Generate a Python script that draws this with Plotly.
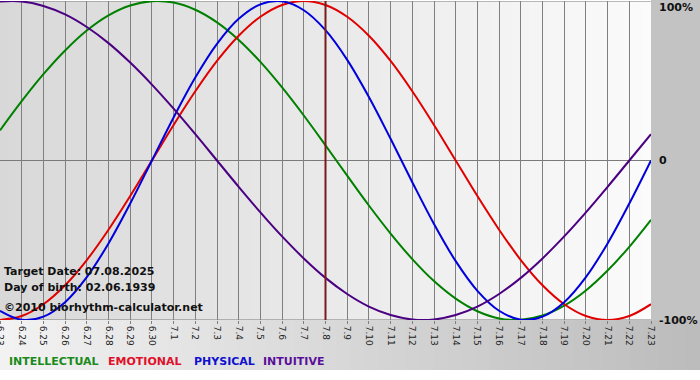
import plotly.graph_objects as go

# Day labels (month.day)
DAYS = ["6.23", "6.24", "6.25", "6.26", "6.27", "6.28", "6.29", "6.30",
        "7.1", "7.2", "7.3", "7.4", "7.5", "7.6", "7.7", "7.8", "7.9", "7.10",
        "7.11", "7.12", "7.13", "7.14", "7.15", "7.16", "7.17", "7.18", "7.19",
        "7.20", "7.21", "7.22", "7.23"]

# Values in percent
INTELLECTUAL = [18.9, 37.2, 54.1, 69.0, 81.5, 91.0, 97.2, 99.9, 99.0, 94.5, 86.6,
                75.6, 61.8, 45.8, 28.2, 9.5, -9.5, -28.2, -45.8, -61.8, -75.6,
                -86.6, -94.5, -99.0, -99.9, -97.2, -91.0, -81.5, -69.0, -54.1, -37.2]
EMOTIONAL = [-100.0, -97.5, -90.1, -78.2, -62.4, -43.4, -22.3, 0.0, 22.3, 43.4, 62.4,
             78.2, 90.1, 97.5, 100.0, 97.5, 90.1, 78.2, 62.4, 43.4, 22.3, 0.0,
             -22.3, -43.4, -62.4, -78.2, -90.1, -97.5, -100.0, -97.5, -90.1]
PHYSICAL = [-94.2, -99.8, -97.9, -88.8, -73.1, -52.0, -27.0, 0.0, 27.0, 52.0, 73.1,
            88.8, 97.9, 99.8, 94.2, 81.7, 63.1, 39.8, 13.6, -13.6, -39.8, -63.1,
            -81.7, -94.2, -99.8, -97.9, -88.8, -73.1, -52.0, -27.0, 0.0]
INTUITIVE = [99.7, 99.7, 96.9, 91.6, 83.7, 73.6, 61.4, 47.6, 32.5, 16.5, 0.0,
             -16.5, -32.5, -47.6, -61.4, -73.6, -83.7, -91.6, -96.9, -99.7, -99.7,
             -96.9, -91.6, -83.7, -73.6, -61.4, -47.6, -32.5, -16.5, 0.0, 16.5]

Y_TICKS = [100, 0, -100]
Y_TICK_TEXT = ["100%", "0", "-100%"]

TARGET_DAY = "7.8"
SERIES = [("INTELLECTUAL", INTELLECTUAL, "#008000"),
          ("EMOTIONAL", EMOTIONAL, "#e00000"),
          ("PHYSICAL", PHYSICAL, "#0000dd"),
          ("INTUITIVE", INTUITIVE, "#4b0082")]
LEGEND_COLORS = ["#1a8a1a", "#e0102a", "#1010d0", "#5a0f9a"]
INFO_LINES = ["Target Date: 07.08.2025", "Day of birth: 02.06.1939",
              "\u00a92010 biorhythm-calculator.net"]

W, H = 700, 380
L, R, T, B = 0, 49, 1, 60
PW, PH = W - L - R, H - T - B


def px_x(x):
    return (x - L) / PW


def px_y(y):
    return (T + PH - y) / PH


fig = go.Figure()
for name, vals, col in SERIES:
    fig.add_trace(go.Scatter(x=DAYS, y=vals, mode="lines", name=name,
                             line=dict(color=col, width=2, shape="spline", smoothing=1.0),
                             showlegend=False, hoverinfo="skip"))

shapes = []
# plot background gradient (dark left -> light right)
N = 70
c0, c1 = 216, 251
for k in range(N):
    c = round(c0 + (c1 - c0) * k / (N - 1))
    shapes.append(dict(type="rect", xref="paper", yref="paper", x0=k / N, x1=(k + 1) / N + 0.001,
                       y0=0, y1=1, fillcolor=f"rgb({c},{c},{c})", line_width=0, layer="below"))
# bottom band gradient (light left -> dark right)
M = 50
b0, b1 = 242, 188
xr = px_x(W)
for k in range(M):
    c = round(b0 + (b1 - b0) * k / (M - 1))
    shapes.append(dict(type="rect", xref="paper", yref="paper", x0=xr * k / M, x1=xr * (k + 1) / M + 0.001,
                       y0=px_y(370), y1=0, fillcolor=f"rgb({c},{c},{c})", line_width=0, layer="below"))
# right margin
shapes.append(dict(type="rect", xref="paper", yref="paper", x0=1, x1=xr, y0=0, y1=px_y(0),
                   fillcolor="#c3c3c3", line_width=0, layer="below"))
# horizontal lines
for yv in Y_TICKS:
    shapes.append(dict(type="line", xref="paper", yref="y", x0=0, x1=1, y0=yv, y1=yv,
                       line=dict(color="#7a7a7a", width=1), layer="between"))
# target day line
ti = DAYS.index(TARGET_DAY)
shapes.append(dict(type="line", xref="x", yref="paper", x0=ti, x1=ti, y0=0, y1=1,
                   line=dict(color="#7a1a1a", width=2), layer="above"))

annotations = []
for txt, yp in zip(INFO_LINES, (271, 287, 307)):
    annotations.append(dict(text=txt, xref="paper", yref="paper", x=px_x(2), y=px_y(yp),
                            xanchor="left", yanchor="middle", showarrow=False,
                            font=dict(family="DejaVu Sans", size=11, color="#111111", weight="bold")))
for (name, _, _), col, xp in zip(SERIES, LEGEND_COLORS, (7, 106, 192, 261)):
    annotations.append(dict(text=name, xref="paper", yref="paper", x=px_x(xp), y=px_y(361),
                            xanchor="left", yanchor="middle", showarrow=False,
                            font=dict(family="DejaVu Sans", size=11, color=col, weight="bold")))
# right-side value labels (100% sits slightly below the top line, as in the original)
for yv, txt, dy in zip(Y_TICKS, Y_TICK_TEXT, (6, 0, 0)):
    annotations.append(dict(text=txt, xref="paper", yref="y", x=px_x(657), y=yv,
                            yshift=-dy, xanchor="left", yanchor="middle", showarrow=False,
                            font=dict(family="DejaVu Sans", size=11, color="#111111", weight="bold")))

fig.update_layout(
    width=W, height=H,
    margin=dict(l=L, r=R, t=T, b=B, pad=0, autoexpand=False),
    paper_bgcolor="#ffffff", plot_bgcolor="rgba(0,0,0,0)",
    shapes=shapes, annotations=annotations,
    xaxis=dict(type="category", range=[0, len(DAYS) - 1], showgrid=True, gridcolor="#808080",
               gridwidth=1, zeroline=False, showline=False, automargin=False,
               ticks="outside", ticklen=3, tickcolor="#808080", tickangle=90,
               tickfont=dict(family="DejaVu Sans", size=9, color="#222222")),
    yaxis=dict(range=[-100, 100], side="right", showgrid=False, zeroline=False, showline=False,
               automargin=False, showticklabels=False, ticks=""),
)

fig.write_html("out.html", config={"displayModeBar": False},
               post_script="document.body.style.margin='0px';")
